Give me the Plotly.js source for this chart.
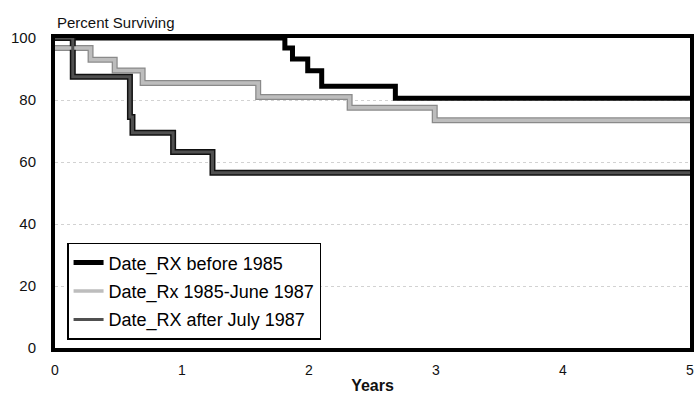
<!DOCTYPE html>
<html>
<head>
<meta charset="utf-8">
<script src="https://cdn.plot.ly/plotly-3.0.1.min.js"></script>
<style>html,body{margin:0;padding:0;background:#fff;}#chart{width:698px;height:395px;}</style>
</head>
<body>
<div id="chart"></div>
<script>
// Kaplan-Meier step data (years, percent surviving)
const seriesNames = ["Date_RX before 1985", "Date_Rx 1985-June 1987", "Date_RX after July 1987"];
const before1985Years = [0, 1.81, 1.87, 1.99, 2.10, 2.68, 5];
const before1985Pct   = [100, 96.8, 93.2, 89.4, 84.4, 80.6, 80.6];
const midYears = [0, 0.28, 0.47, 0.69, 1.60, 2.32, 2.99, 5];
const midPct   = [96.8, 93.0, 89.5, 85.5, 81.0, 77.5, 73.5, 73.5];
const afterYears = [0, 0.14, 0.59, 0.61, 0.93, 1.24, 5];
const afterPct   = [100, 87.5, 74.5, 69.4, 63.2, 56.5, 56.5];
const yTicks = [0, 20, 40, 60, 80, 100];
const xTicks = [0, 1, 2, 3, 4, 5];

const FONT = "Liberation Sans, Arial, sans-serif";

function outline(x, y, color, w, grp) {
  return {x: x, y: y, mode: "lines", line: {shape: "hv", color: color, width: w},
          showlegend: false, hoverinfo: "skip", legendgroup: grp};
}
function main(x, y, name, color, w, grp) {
  return {x: x, y: y, mode: "lines", name: name, line: {shape: "hv", color: color, width: w},
          legendgroup: grp};
}

const traces = [
  main(before1985Years, before1985Pct, seriesNames[0], "#000", 5, "a"),
  outline(midYears, midPct, "#8a8a8a", 6, "b"),
  outline(afterYears, afterPct, "#111", 6, "c"),
  main(midYears, midPct, seriesNames[1], "#bdbdbd", 3.5, "b"),
  main(afterYears, afterPct, seriesNames[2], "#505050", 3, "c")
];

const layout = {
  width: 698, height: 395,
  margin: {l: 55, r: 8, t: 38, b: 47},
  paper_bgcolor: "#fff", plot_bgcolor: "#fff",
  font: {family: FONT, color: "#111", size: 14},
  showlegend: true,
  legend: {
    x: 0.019, y: 0.339, xanchor: "left", yanchor: "top",
    bgcolor: "#fff", bordercolor: "#000", borderwidth: 1.5,
    font: {family: FONT, size: 18, color: "#000"},
    traceorder: "grouped", tracegroupgap: 2,
    itemwidth: 30
  },
  xaxis: {
    range: [0, 5], tickvals: xTicks, ticktext: xTicks.map(String),
    showgrid: false, zeroline: false, ticks: "",
    showline: true, linecolor: "#000", linewidth: 4, mirror: true,
    ticklabelstandoff: 6,
    tickfont: {family: FONT, size: 14, color: "#111"},
    title: {text: "<b>Years</b>", font: {family: FONT, size: 16, color: "#111"}, standoff: 4}
  },
  yaxis: {
    range: [0, 100], tickvals: yTicks, ticktext: yTicks.map(String),
    showgrid: true, gridcolor: "#d2d2d2", griddash: "dot", gridwidth: 1,
    zeroline: false, ticks: "",
    showline: true, linecolor: "#000", linewidth: 4, mirror: true,
    ticklabelstandoff: 12,
    tickfont: {family: FONT, size: 15, color: "#111"}
  },
  annotations: [{
    text: "Percent Surviving", xref: "paper", yref: "paper", x: 0, y: 1,
    xanchor: "left", yanchor: "bottom", yshift: 5, showarrow: false,
    font: {family: FONT, size: 15, color: "#111"}
  }]
};

Plotly.newPlot("chart", traces, layout, {displayModeBar: false, staticPlot: true});
</script>
</body>
</html>
